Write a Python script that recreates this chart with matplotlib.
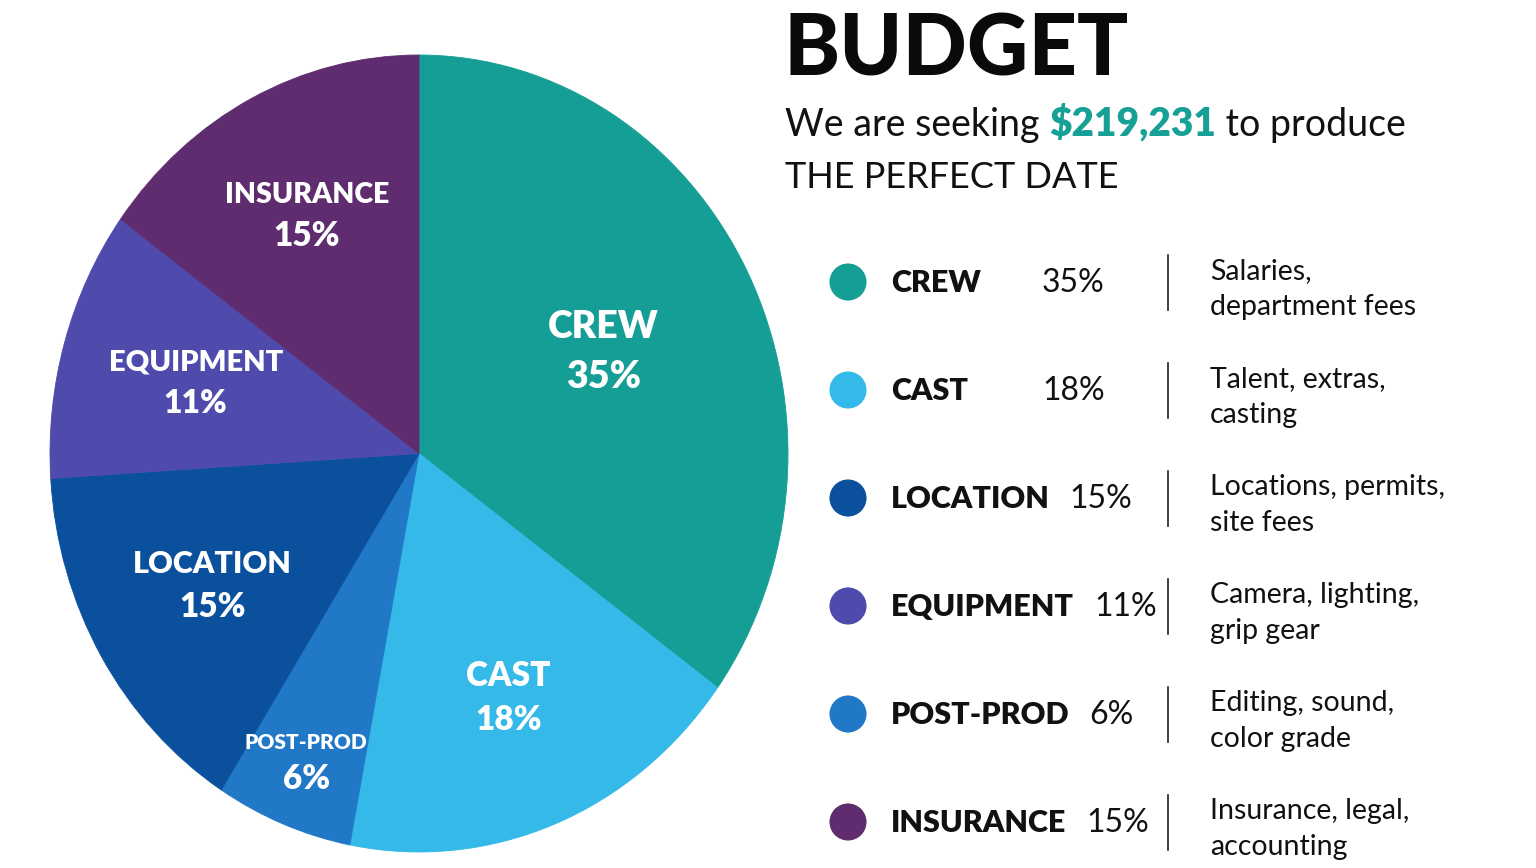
import numpy as np
import matplotlib
matplotlib.use("Agg")
import matplotlib.pyplot as plt

plt.rcParams['font.family'] = ['Lato', 'DejaVu Sans']

# data
categories = ["CREW", "CAST", "POST-PROD", "LOCATION", "EQUIPMENT", "INSURANCE"]
shares = [35, 18, 6, 15, 11, 15]
colors = ["#149E96", "#34B9E9", "#2178C6", "#0A509D", "#4E4BAC", "#5F2D6F"]
legend_order = ["CREW", "CAST", "LOCATION", "EQUIPMENT", "POST-PROD", "INSURANCE"]
descriptions = {
    "CREW": "Salaries,\ndepartment fees",
    "CAST": "Talent, extras,\ncasting",
    "LOCATION": "Locations, permits,\nsite fees",
    "EQUIPMENT": "Camera, lighting,\ngrip gear",
    "POST-PROD": "Editing, sound,\ncolor grade",
    "INSURANCE": "Insurance, legal,\naccounting",
}
amount = "$219,231"
title = "BUDGET"
film = "THE PERFECT DATE"

# label style per wedge (pie order)
label_r = [0.56, 0.66, 0.83, 0.65, 0.63, 0.67]
name_sz = [27, 24, 15, 22, 21, 20.5]
pct_sz = [27, 24, 24, 24, 23, 24]

W, H = 1536, 868
fig = plt.figure(figsize=(W / 100, H / 100), dpi=100)
fig.patch.set_facecolor("white")

ax = fig.add_axes([50 / W, 16 / H, 738 / W, 797 / H])
wedges, _ = ax.pie(shares, colors=colors, startangle=90, counterclock=False,
                   wedgeprops=dict(linewidth=0.6, edgecolor="none"))
for w, c in zip(wedges, colors):
    w.set_edgecolor(c)
ax.set_aspect("auto")
ax.set_xlim(-1, 1); ax.set_ylim(-1, 1)
ax.axis("off")

cum = np.cumsum(shares) - np.array(shares) / 2
for i, (name, v) in enumerate(zip(categories, shares)):
    th = np.deg2rad(90 - 360 * cum[i] / 100)
    x, y = label_r[i] * np.cos(th), label_r[i] * np.sin(th)
    d = 0.67 * (name_sz[i] + pct_sz[i]) / 2
    ax.annotate(name, (x, y), xytext=(0, d), textcoords="offset points",
                ha="center", va="center", color="white", fontsize=name_sz[i], fontweight="heavy")
    ax.annotate(f"{v}%", (x, y), xytext=(0, -d), textcoords="offset points",
                ha="center", va="center", color="white", fontsize=pct_sz[i], fontweight="heavy")

# right panel in pixel coordinates
ov = fig.add_axes([0, 0, 1, 1])
ov.set_xlim(0, W); ov.set_ylim(H, 0)
ov.axis("off")

ov.text(783, 76, title, fontsize=61, fontweight="black", color="#0a0a0a", va="baseline")

fig.canvas.draw()
r = fig.canvas.get_renderer()
t1 = ov.text(785, 136, "We are seeking ", fontsize=27, color="#111111", va="baseline")
x1 = t1.get_window_extent(r).x1
t2 = ov.text(x1, 136, amount, fontsize=28, fontweight="heavy", color="#17A096", va="baseline")
x2 = t2.get_window_extent(r).x1
ov.text(x2, 136, " to produce", fontsize=27, color="#111111", va="baseline")
ov.text(785, 188, film, fontsize=26, color="#111111", va="baseline")

share_of = dict(zip(categories, shares))
color_of = dict(zip(categories, colors))
for k, name in enumerate(legend_order):
    yc = 282 + 108 * k
    ov.scatter([848], [yc], s=36 ** 2 * 0.55, color=color_of[name], edgecolor="none")
    tn = ov.text(891, yc + 1, name, fontsize=22, fontweight="heavy", color="#111111", va="center")
    nx = tn.get_window_extent(r).x1
    ov.text(max(nx + 20, 1042), yc + 1, f"{share_of[name]}%", fontsize=23, color="#111111", va="center")
    ov.plot([1168, 1168], [yc - 27, yc + 28], color="#222222", lw=1.2)
    ov.text(1210, yc + 7, descriptions[name], fontsize=20.5, color="#111111", va="center",
            linespacing=1.45)

fig.savefig("out.png", dpi=100, facecolor="white")
